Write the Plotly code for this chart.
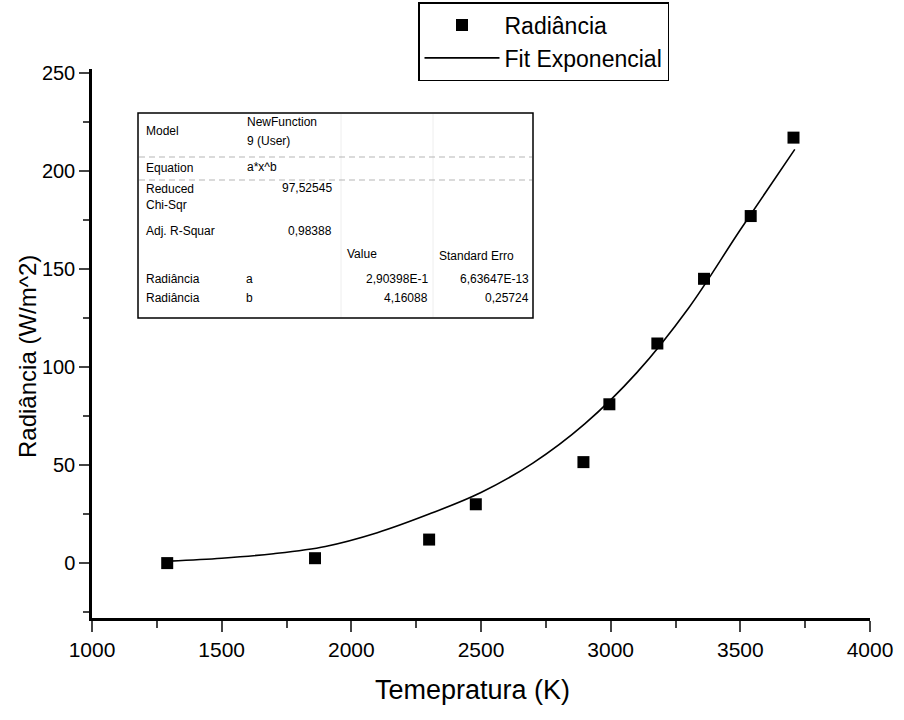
import plotly.graph_objects as go

# Data
temp_k = [1290, 1860, 2300, 2480, 2895, 2995, 3180, 3360, 3540, 3705]
radiancia = [0, 2.5, 12, 30, 51.5, 81, 112, 145, 177, 217]

fit_x = [1300, 1500, 1700, 1900, 2100, 2300, 2500, 2700, 2900, 3100, 3300, 3500, 3710]
fit_y = [1, 2.5, 4.8, 8.5, 15.5, 25, 36, 51, 71, 97, 130, 170, 211]

x_ticks = [1000, 1500, 2000, 2500, 3000, 3500, 4000]
y_ticks = [0, 50, 100, 150, 200, 250]

# Fit-results table texts
tbl_model = ["NewFunction", "9 (User)"]
tbl_equation = "a*x^b"
tbl_chi = "97,52545"
tbl_r2 = "0,98388"
tbl_params = [("Radiância", "a", "2,90398E-1", "6,63647E-13"),
              ("Radiância", "b", "4,16088", "0,25724")]

W, H = 904, 720
L, R, T, B = 92, 34, 69, 102
PW, PH = W - L - R, H - T - B


def px(x):
    return (x - L) / PW


def py(y):
    return 1 - (y - T) / PH


fig = go.Figure()
fig.add_trace(go.Scatter(x=temp_k, y=radiancia, mode="markers", name="Radiância",
                         marker=dict(symbol="square", size=12, color="black")))
fig.add_trace(go.Scatter(x=fit_x, y=fit_y, mode="lines", name="Fit Exponencial",
                         line=dict(color="black", width=1.6, shape="spline", smoothing=1.0)))

shapes = []
annotations = []
# table box
shapes.append(dict(type="rect", xref="paper", yref="paper",
                   x0=px(138), x1=px(533), y0=py(318), y1=py(113),
                   line=dict(color="black", width=1.5), fillcolor="white", layer="above"))
for xx in (341, 433):
    shapes.append(dict(type="line", xref="paper", yref="paper",
                       x0=px(xx), x1=px(xx), y0=py(114), y1=py(317),
                       line=dict(color="#eeeeee", width=1), layer="above"))
for yy in (157, 180):
    shapes.append(dict(type="line", xref="paper", yref="paper",
                       x0=px(139), x1=px(532), y0=py(yy), y1=py(yy),
                       line=dict(color="#b5b5b5", width=1, dash="6px,4px"), layer="above"))


def txt(x, y, s, anchor="left"):
    annotations.append(dict(xref="paper", yref="paper", x=px(x), y=py(y), text=s,
                            showarrow=False, xanchor=anchor, yanchor="middle",
                            font=dict(family="Liberation Sans, Arial", size=12, color="black")))


txt(144, 131, "Model")
txt(245, 122, tbl_model[0])
txt(245, 141, tbl_model[1])
txt(144, 168, "Equation")
txt(245, 167, tbl_equation)
txt(144, 189, "Reduced")
txt(144, 205, "Chi-Sqr")
txt(334, 188, tbl_chi, "right")
txt(144, 231, "Adj. R-Squar")
txt(334, 231, tbl_r2, "right")
txt(345, 254, "Value")
txt(437, 256, "Standard Erro")
for i, (nm, p, v, e) in enumerate(tbl_params):
    yy = 279 + i * 19
    txt(144, yy, nm)
    txt(244, yy, p)
    txt(430, yy, v, "right")
    txt(531, yy, e, "right")

# axis titles
annotations.append(dict(xref="paper", yref="paper", x=px(472), y=py(690),
                        text="Temepratura (K)", showarrow=False,
                        xanchor="center", yanchor="middle",
                        font=dict(family="Liberation Sans, Arial", size=27, color="black")))
annotations.append(dict(xref="paper", yref="paper", x=px(27), y=py(357),
                        text="Radiância (W/m^2)", showarrow=False, textangle=-90,
                        xanchor="center", yanchor="middle",
                        font=dict(family="Liberation Sans, Arial", size=24, color="black")))

fig.update_layout(
    width=W, height=H,
    margin=dict(l=L, r=R, t=T, b=B, autoexpand=False),
    paper_bgcolor="white", plot_bgcolor="white",
    font=dict(family="Liberation Sans, Arial", color="black"),
    showlegend=True,
    legend=dict(xref="container", yref="container", x=418 / W, y=1 - 2 / H,
                xanchor="left", yanchor="top",
                bordercolor="black", borderwidth=1.5, bgcolor="white",
                font=dict(size=23, color="black"), itemwidth=75,
                tracegroupgap=0),
    shapes=shapes, annotations=annotations,
    xaxis=dict(range=[1000, 4000], tickvals=x_ticks, ticks="outside", ticklen=11,
               tickwidth=2, showline=True, linecolor="black", linewidth=2.5,
               showgrid=False, zeroline=False, tickfont=dict(size=21), automargin=False,
               minor=dict(ticks="outside", ticklen=7, dtick=250, tickwidth=1.5, showgrid=False)),
    yaxis=dict(range=[-28, 252], tickvals=y_ticks, ticks="outside", ticklen=10,
               tickwidth=2, showline=True, linecolor="black", linewidth=2.5,
               showgrid=False, zeroline=False, tickfont=dict(size=20), automargin=False,
               minor=dict(ticks="outside", ticklen=6, dtick=25, tickwidth=1.5, showgrid=False)),
)

fig.write_html("out.html")
